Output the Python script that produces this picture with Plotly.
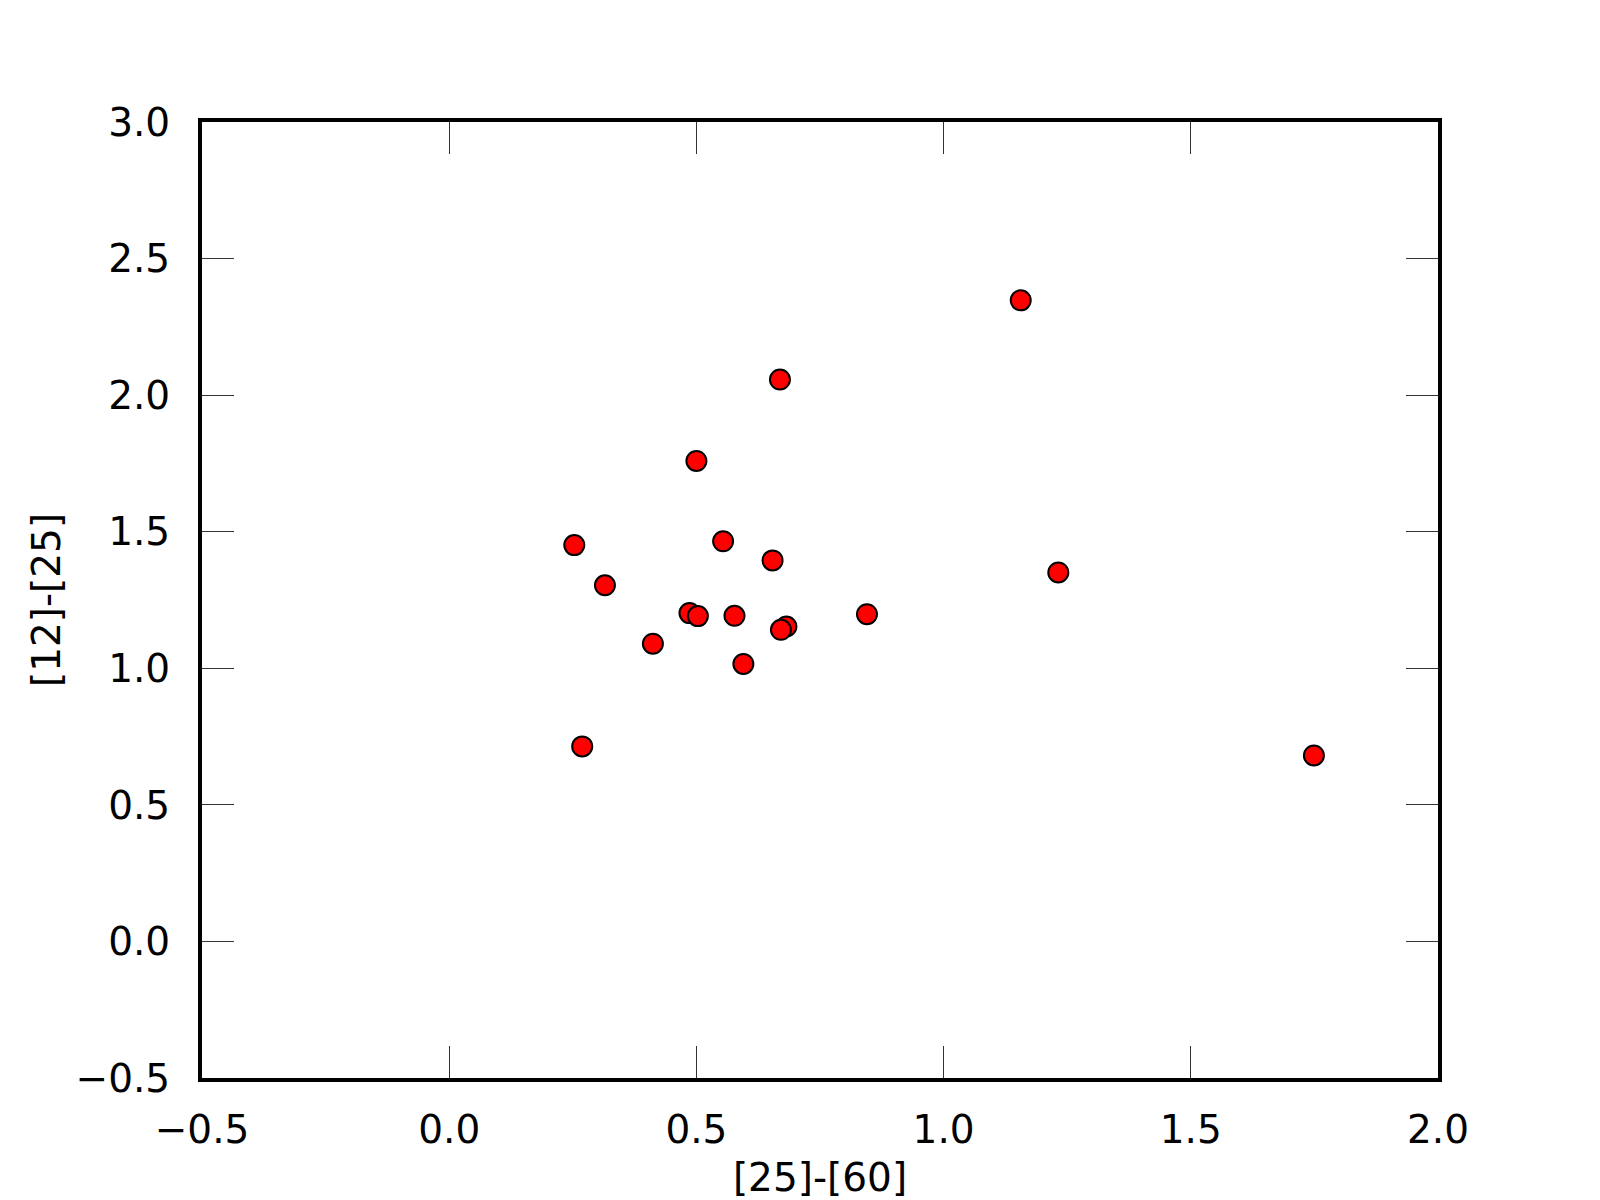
import plotly.graph_objects as go

# IRAS colour-colour points
color_25_60 = [1.156, 0.669, 0.500, 0.253, 0.554, 0.654, 0.315, 1.232,
               0.486, 0.503, 0.577, 0.412, 0.682, 0.671, 0.595, 0.845,
               0.269, 1.749]
color_12_25 = [2.347, 2.057, 1.759, 1.451, 1.465, 1.395, 1.304, 1.351,
               1.202, 1.191, 1.192, 1.090, 1.153, 1.141, 1.016, 1.198,
               0.714, 0.681]

x_range = [-0.5, 2.0]
y_range = [-0.5, 3.0]

fig = go.Figure()

fig.add_trace(go.Scatter(
    x=color_25_60, y=color_12_25,
    mode='markers',
    marker=dict(size=20, color='#ff0000', line=dict(color='black', width=2)),
    showlegend=False
))

axis_common = dict(
    showline=True, linecolor='black', linewidth=4, mirror='ticks',
    ticks='inside', ticklen=32, tickwidth=1, tickcolor='#333333',
    showgrid=False, zeroline=False, dtick=0.5, tickformat='.1f',
    tickfont=dict(size=39, color='black'),
    title_font=dict(size=39, color='black'),
)

fig.update_xaxes(range=x_range, title_text='[25]-[60]', title_standoff=16,
                 ticklabelstandoff=14, **axis_common)
fig.update_yaxes(range=y_range, title_text='[12]-[25]', title_standoff=4,
                 ticklabelstandoff=20, **axis_common)

# page body adds an 8px offset, so margins are shifted to keep the plot box at 200..1440 x 120..1080
fig.update_layout(
    width=1592, height=1192,
    margin=dict(l=194, r=162, t=114, b=122, autoexpand=False),
    paper_bgcolor='white',
    plot_bgcolor='white',
    font=dict(family='DejaVu Sans', color='black'),
)

fig.write_html("out.html")
